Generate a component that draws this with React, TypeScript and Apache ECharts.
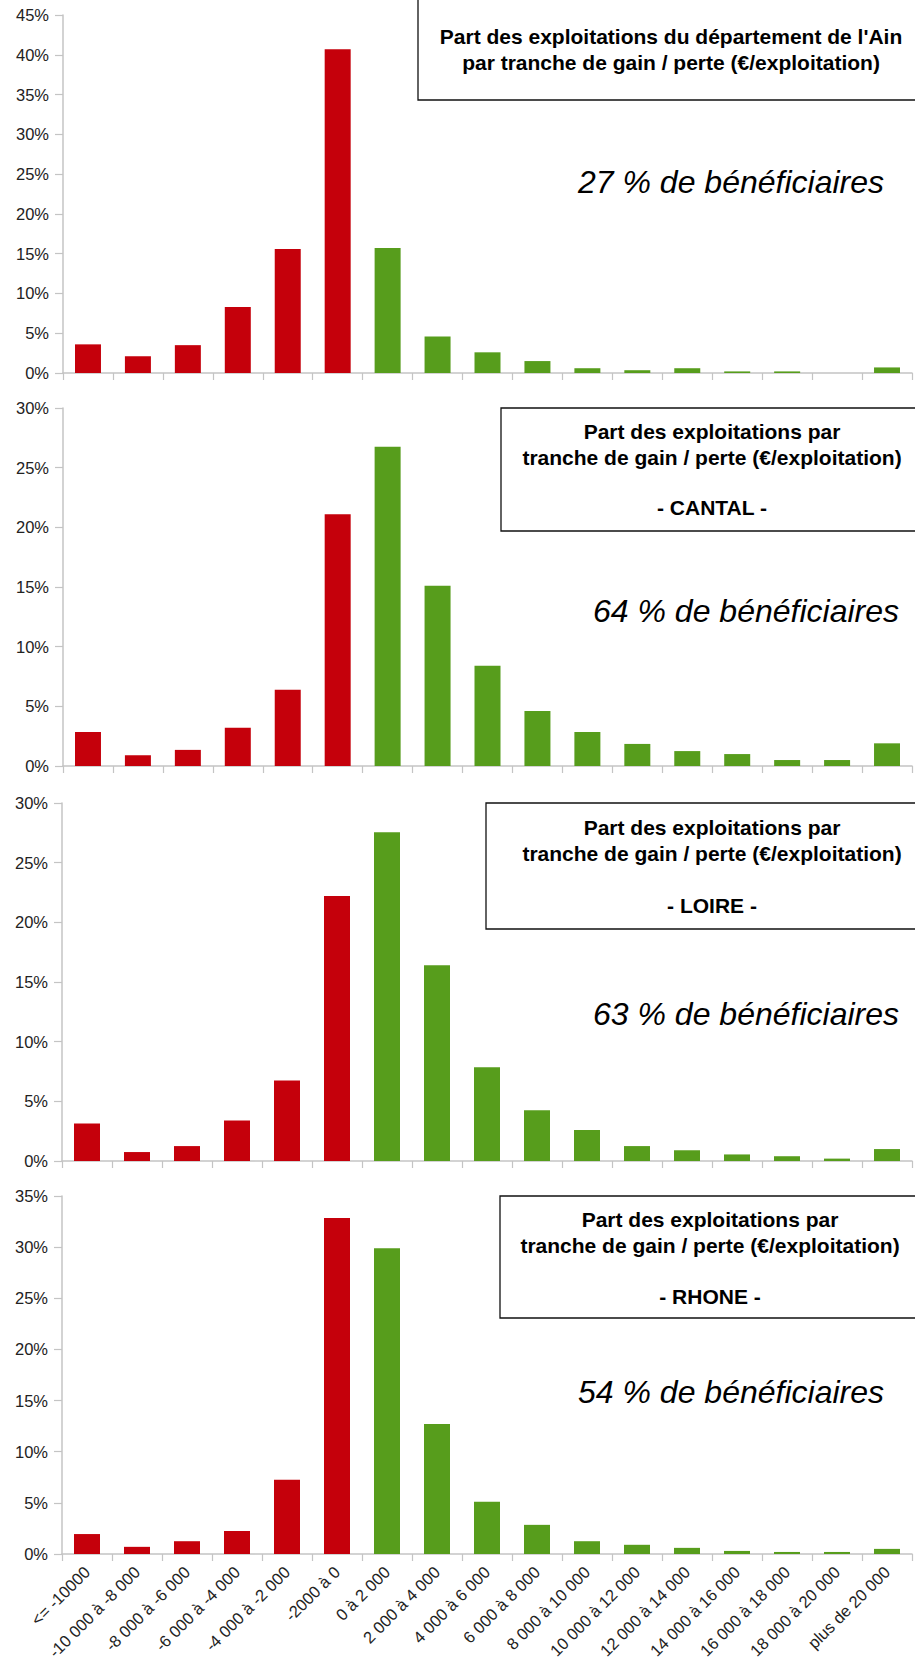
import React, { useEffect, useRef } from "react";
import * as echarts from "echarts";

const categories = [
  "<= -10000",
  "-10 000 à -8 000",
  "-8 000 à -6 000",
  "-6 000 à -4 000",
  "-4 000 à -2 000",
  "-2000 à 0",
  "0 à 2 000",
  "2 000 à 4 000",
  "4 000 à 6 000",
  "6 000 à 8 000",
  "8 000 à 10 000",
  "10 000 à 12 000",
  "12 000 à 14 000",
  "14 000 à 16 000",
  "16 000 à 18 000",
  "18 000 à 20 000",
  "plus de 20 000",
];

// number of loss categories (red), the rest are gains (green)
const lossCount = 6;

const ainValues = [3.6, 2.1, 3.5, 8.3, 15.6, 40.7, 15.7, 4.6, 2.6, 1.5, 0.6, 0.35, 0.6, 0.2, 0.2, 0, 0.7];
const cantalValues = [2.85, 0.9, 1.35, 3.2, 6.4, 21.1, 26.75, 15.1, 8.4, 4.6, 2.85, 1.85, 1.25, 1.0, 0.5, 0.5, 1.9];
const loireValues = [3.15, 0.75, 1.25, 3.4, 6.75, 22.2, 27.55, 16.4, 7.85, 4.25, 2.6, 1.25, 0.9, 0.55, 0.4, 0.2, 1.0];
const rhoneValues = [1.95, 0.7, 1.25, 2.25, 7.25, 32.85, 29.9, 12.7, 5.1, 2.85, 1.25, 0.9, 0.6, 0.3, 0.2, 0.2, 0.5];

const yMaxes = [45, 30, 30, 35];

const titleLines = [
  ["Part des exploitations du département de l'Ain", "par tranche de gain / perte (€/exploitation)"],
  ["Part des exploitations par", "tranche de gain / perte (€/exploitation)", "", "- CANTAL -"],
  ["Part des exploitations par", "tranche de gain / perte (€/exploitation)", "", "- LOIRE -"],
  ["Part des exploitations par", "tranche de gain / perte (€/exploitation)", "", "- RHONE -"],
];

const beneficiaryTexts = [
  "27 % de bénéficiaires",
  "64 % de bénéficiaires",
  "63 % de bénéficiaires",
  "54 % de bénéficiaires",
];

const RED = "#c5000b";
const GREEN = "#579d1c";
const AXIS = "#c4c4c4";
const FONT = "'Liberation Sans', Arial, sans-serif";

const grids = [
  { left: 63, top: 15, width: 849, height: 358 },
  { left: 63, top: 408, width: 849, height: 358 },
  { left: 62, top: 803, width: 850, height: 358 },
  { left: 62, top: 1196, width: 850, height: 358 },
];

// title box layout: rect and line centers
const boxes = [
  { x: 418, y: -5, w: 520, h: 105, cx: 671, lines: [36.7, 62.7] },
  { x: 501, y: 408, w: 430, h: 123, cx: 712, lines: [431.7, 457.3, 482, 507.3] },
  { x: 486, y: 803, w: 440, h: 126, cx: 712, lines: [827.5, 853.3, 879, 905] },
  { x: 500, y: 1196, w: 430, h: 122, cx: 710, lines: [1219.3, 1245, 1270, 1296] },
];

const bigTextPos = [
  { x: 731, y: 182 },
  { x: 746, y: 611 },
  { x: 746, y: 1014 },
  { x: 731, y: 1392 },
];

export default function App() {
  const ref = useRef<HTMLDivElement>(null);

  useEffect(() => {
    if (!ref.current) return;
    const chart = echarts.init(ref.current, null, { renderer: "svg" });
    const allValues = [ainValues, cantalValues, loireValues, rhoneValues];

    const xAxis = grids.map((_, i) => ({
      type: "category",
      gridIndex: i,
      data: categories,
      boundaryGap: true,
      axisLine: { show: true, lineStyle: { color: AXIS, width: 1.5 } },
      axisTick: { show: true, length: 7, lineStyle: { color: AXIS, width: 1.2 } },
      axisLabel: {
        show: i === 3,
        interval: 0,
        rotate: 45,
        margin: 15,
        color: "#222",
        fontFamily: FONT,
        fontSize: 16.5,
      },
      splitLine: { show: false },
    }));

    const yAxis = grids.map((_, i) => ({
      type: "value",
      gridIndex: i,
      min: 0,
      max: yMaxes[i],
      interval: 5,
      axisLine: { show: true, lineStyle: { color: AXIS, width: 1.5 } },
      axisTick: { show: true, length: 8, lineStyle: { color: AXIS, width: 1.2 } },
      axisLabel: {
        formatter: "{value}%",
        color: "#222",
        fontFamily: FONT,
        fontSize: 16.5,
        margin: 14,
      },
      splitLine: { show: false },
    }));

    const series = allValues.map((vals, i) => ({
      type: "bar",
      xAxisIndex: i,
      yAxisIndex: i,
      barWidth: 26,
      data: vals.map((v, k) => ({
        value: v,
        itemStyle: { color: k < lossCount ? RED : GREEN },
      })),
    }));

    const graphic: any[] = [];
    boxes.forEach((b, i) => {
      graphic.push({
        type: "rect",
        shape: { x: b.x, y: b.y, width: b.w, height: b.h },
        style: { fill: "#fff", stroke: "#111", lineWidth: 1.3 },
        z: 10,
      });
      titleLines[i].forEach((t, k) => {
        if (!t) return;
        graphic.push({
          type: "text",
          x: b.cx,
          y: b.lines[k],
          style: {
            text: t,
            fill: "#000",
            font: `bold 21px ${FONT}`,
            align: "center",
            verticalAlign: "middle",
          },
          z: 11,
        });
      });
      graphic.push({
        type: "text",
        x: bigTextPos[i].x,
        y: bigTextPos[i].y,
        style: {
          text: beneficiaryTexts[i],
          fill: "#000",
          font: `italic 32px ${FONT}`,
          align: "center",
          verticalAlign: "middle",
        },
        z: 11,
      });
    });

    chart.setOption({
      animation: false,
      backgroundColor: "#fff",
      grid: grids.map((g) => ({ ...g, containLabel: false })),
      xAxis,
      yAxis,
      series,
      graphic,
    });

    return () => chart.dispose();
  }, []);

  return (
    <div
      ref={ref}
      style={{ position: "absolute", left: 0, top: 0, width: 915, height: 1663 }}
    />
  );
}
